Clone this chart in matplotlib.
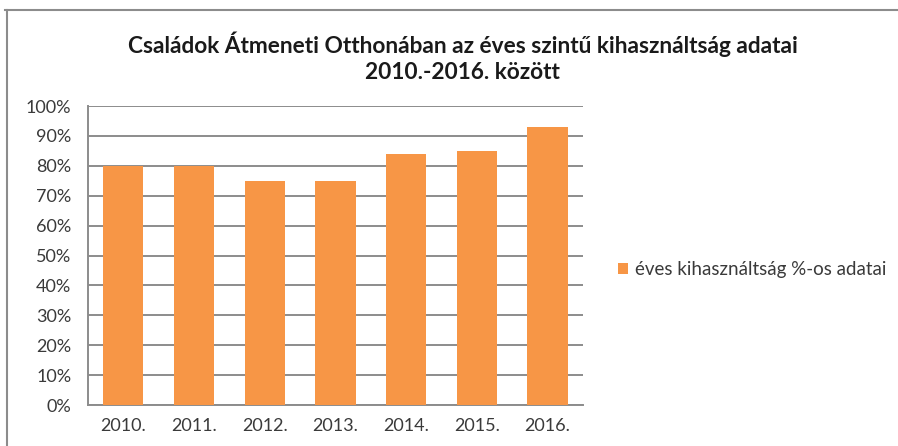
import matplotlib
matplotlib.use("Agg")
import matplotlib.pyplot as plt
from matplotlib.lines import Line2D
from matplotlib.ticker import PercentFormatter

years = ["2010.", "2011.", "2012.", "2013.", "2014.", "2015.", "2016."]
values = [80, 80, 75, 75, 84, 85, 93]
series_name = "éves kihasználtság %-os adatai"
title = "Családok Átmeneti Otthonában az éves szintű kihasználtság adatai\n2010.-2016. között"
yticks = [0, 10, 20, 30, 40, 50, 60, 70, 80, 90, 100]

plt.rcParams['font.family'] = ['Lato', 'DejaVu Sans']

fig = plt.figure(figsize=(8.98, 4.46), dpi=100)
ax = fig.add_axes([0.098, 0.0919, 0.551, 0.6704])

x = range(len(years))
ax.bar(x, values, width=0.57, color="#F79646", zorder=3, label=series_name)
ax.set_xlim(-0.5, len(years) - 0.5)
ax.set_ylim(0, 100)
ax.set_yticks(yticks)
ax.yaxis.set_major_formatter(PercentFormatter(100, decimals=0))
ax.set_xticks(list(x))
ax.set_xticklabels(years)
ax.grid(axis="y", color="#8c8c8c", linewidth=1.4, zorder=0)
for s in ["top", "right"]:
    ax.spines[s].set_visible(False)
ax.spines["left"].set_color("#8c8c8c")
ax.spines["bottom"].set_color("#8c8c8c")
ax.spines["left"].set_linewidth(1.4)
ax.spines["bottom"].set_linewidth(1.4)
ax.tick_params(axis="both", length=0, labelsize=13, colors="#3a3a3a")
ax.tick_params(axis="y", pad=12)
ax.tick_params(axis="x", pad=9)

fig.text(0.515, 0.872, title, ha="center", va="center", fontsize=16.3,
         fontweight="bold", color="#1a1a1a", linespacing=1.3)

fig.legend(loc="center left", bbox_to_anchor=(0.669, 0.395), frameon=False,
           fontsize=13.5, handlelength=0.55, handleheight=0.55, handletextpad=0.4,
           labelcolor="#3a3a3a")

# chart frame (top and left edges)
fig.add_artist(Line2D([0.006, 1.0], [0.977, 0.977], color="#8c8c8c", lw=1.5, transform=fig.transFigure))
fig.add_artist(Line2D([0.008, 0.008], [0.0, 0.977], color="#8c8c8c", lw=1.5, transform=fig.transFigure))

fig.savefig("out.png", dpi=100)
